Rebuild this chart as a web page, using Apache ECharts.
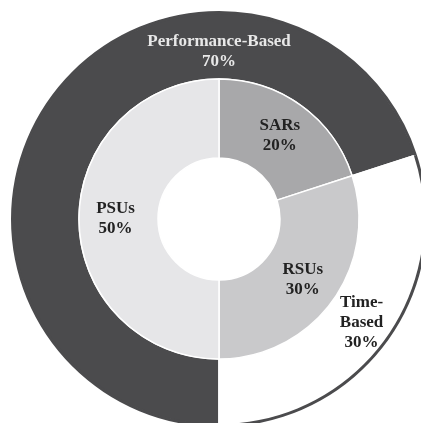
<!DOCTYPE html>
<html>
<head>
<meta charset="utf-8">
<style>
  html, body { margin: 0; padding: 0; background: #ffffff; }
  #chart { width: 421px; height: 423px; }
</style>
<script src="https://cdn.jsdelivr.net/npm/echarts@6/dist/echarts.min.js"></script>
</head>
<body>
<div id="chart"></div>
<script>
// Outer ring: vesting basis
const outerNames = ['Performance-Based', 'Time-Based'];
const outerValues = [70, 30];
// Inner ring: award types
const innerNames = ['SARs', 'RSUs', 'PSUs'];
const innerValues = [20, 30, 50];

const CX = 219, CY = 219;
const HOLE = 61, MID = 140, OUTER = 208;

const outerColors = ['#4b4b4d', '#ffffff'];
const innerColors = ['#a8a8aa', '#c9c9cb', '#e6e6e8'];
const outerLabelColors = ['#e8e8e8', '#222222'];

const chart = echarts.init(document.getElementById('chart'), null, { renderer: 'canvas' });

const font = '"Liberation Serif", "Times New Roman", serif';

chart.setOption({
  backgroundColor: '#ffffff',
  animation: false,
  series: [
    {
      // thin dark rim around the outer ring
      type: 'pie',
      silent: true,
      center: [CX, CY],
      radius: [OUTER - 3, OUTER],
      startAngle: 270,
      clockwise: true,
      label: { show: false },
      labelLine: { show: false },
      itemStyle: { color: '#4b4b4d', borderWidth: 0 },
      data: outerNames.map((n, i) => ({ name: n, value: outerValues[i] })),
      z: 3
    },
    {
      type: 'pie',
      center: [CX, CY],
      radius: [MID, OUTER - 1.5],
      startAngle: 270,
      clockwise: true,
      labelLine: { show: false },
      label: {
        show: true,
        position: 'inside',
        fontFamily: font,
        fontWeight: 'bold',
        fontSize: 17,
        lineHeight: 20,
        formatter: p => (p.dataIndex === 1 ? 'Time-\nBased' : p.name) + '\n' + p.value + '%'
      },
      labelLayout: function (params) {
        if (params.dataIndex === 0) {
          return { x: CX, y: CY - (MID + OUTER) / 2 + 7 };
        }
        return {};
      },
      itemStyle: { borderColor: '#ffffff', borderWidth: 1.5 },
      data: outerNames.map((n, i) => ({
        name: n,
        value: outerValues[i],
        itemStyle: { color: outerColors[i] },
        label: { color: outerLabelColors[i] }
      })),
      z: 2
    },
    {
      type: 'pie',
      center: [CX, CY],
      radius: [HOLE, MID],
      startAngle: 90,
      clockwise: true,
      labelLine: { show: false },
      label: {
        show: true,
        position: 'inside',
        color: '#222222',
        fontFamily: font,
        fontWeight: 'bold',
        fontSize: 17,
        lineHeight: 20,
        formatter: p => p.name + '\n' + p.value + '%'
      },
      itemStyle: { borderColor: '#ffffff', borderWidth: 1.5 },
      data: innerNames.map((n, i) => ({
        name: n,
        value: innerValues[i],
        itemStyle: { color: innerColors[i] }
      })),
      z: 2
    }
  ]
});
</script>
</body>
</html>
